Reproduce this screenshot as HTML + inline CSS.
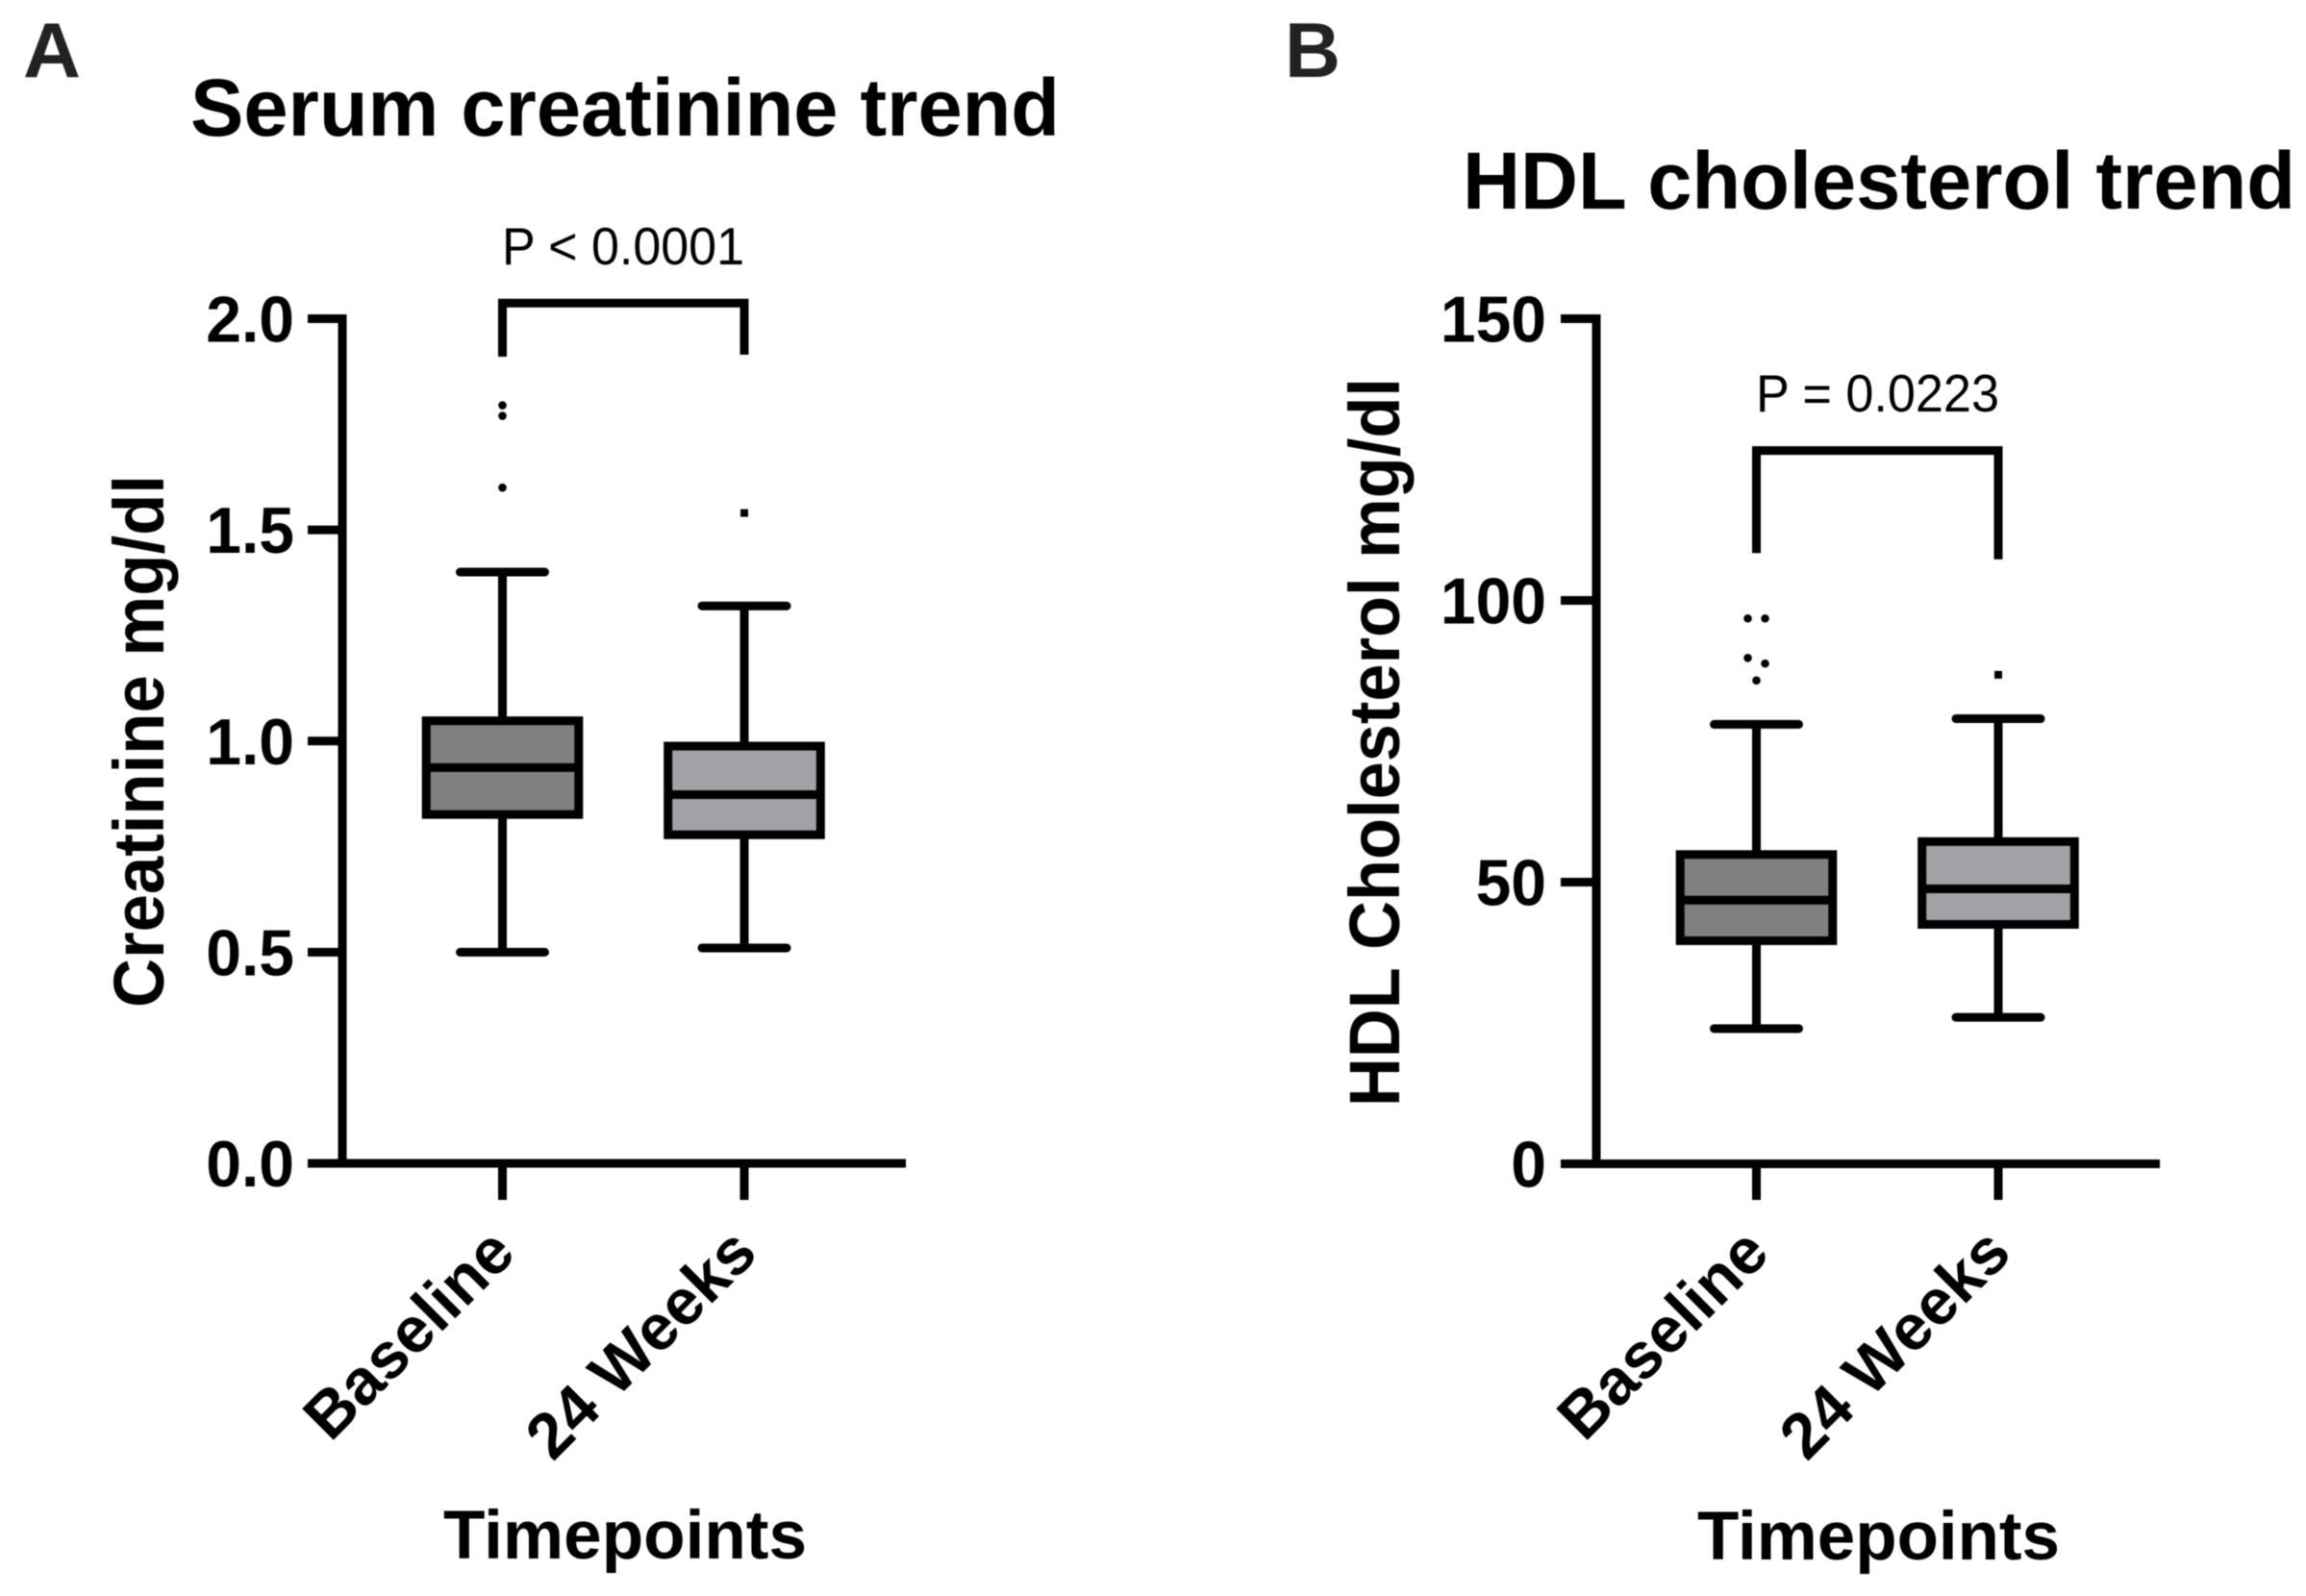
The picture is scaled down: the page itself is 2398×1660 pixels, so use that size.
<!DOCTYPE html>
<html lang="en">
<head>
<meta charset="utf-8">
<title>Serum creatinine and HDL cholesterol trends</title>
<style>
html,body{margin:0;padding:0;background:#fff;width:2398px;height:1660px;overflow:hidden}
svg{display:block;filter:blur(0.6px)}
text{font-family:"Liberation Sans",Arial,sans-serif;fill:#000}
</style>
</head>
<body>
<svg id="figure" xmlns="http://www.w3.org/2000/svg" width="2398" height="1660" viewBox="0 0 2398 1660">
  <rect x="0" y="0" width="2398" height="1660" fill="#fff"/>
  <text x="24" y="80" font-size="81" font-weight="700" style="fill:#222" textLength="60" lengthAdjust="spacingAndGlyphs">A</text>
  <text x="1336" y="80" font-size="81" font-weight="700" style="fill:#222" textLength="58" lengthAdjust="spacingAndGlyphs">B</text>
  <text x="198" y="141" font-size="84" font-weight="700" textLength="904" lengthAdjust="spacingAndGlyphs">Serum creatinine trend</text>
  <text x="1521" y="217" font-size="84" font-weight="700" textLength="866" lengthAdjust="spacingAndGlyphs">HDL cholesterol trend</text>
  <text transform="translate(170,1048) rotate(-90)" font-size="74" font-weight="700" textLength="554" lengthAdjust="spacingAndGlyphs">Creatinine mg/dl</text>
  <text transform="translate(1455,1151) rotate(-90)" font-size="74" font-weight="700" textLength="758" lengthAdjust="spacingAndGlyphs">HDL Cholesterol mg/dl</text>
  <text x="461" y="1621" font-size="71" font-weight="700" textLength="378" lengthAdjust="spacingAndGlyphs">Timepoints</text>
  <text x="1765" y="1622" font-size="71" font-weight="700" textLength="377" lengthAdjust="spacingAndGlyphs">Timepoints</text>
  <text x="522" y="275" font-size="55" textLength="252" lengthAdjust="spacingAndGlyphs">P &lt; 0.0001</text>
  <text x="1826" y="428" font-size="55" textLength="253" lengthAdjust="spacingAndGlyphs">P = 0.0223</text>
</svg>
<script>
// Shared categories
const categories = ['Baseline', '24 Weeks'];

// Panel A: serum creatinine (mg/dl)
const creatinineTicks = [0, 0.5, 1, 1.5, 2];
const creatinineTickLabels = ['0.0', '0.5', '1.0', '1.5', '2.0'];
const creatinineMin = [0.50, 0.51];
const creatinineQ1 = [0.826, 0.778];
const creatinineMedian = [0.937, 0.873];
const creatinineQ3 = [1.048, 0.988];
const creatinineMax = [1.40, 1.32];
const creatinineOutliers = [[1.795, 1.77, 1.60], [1.54]];
const creatinineOutlierSlots = [[0, 0, 0], [0]];
const creatinineBracketTop = 2.037;
const creatinineBracketEnds = [1.91, 1.915];

// Panel B: HDL cholesterol (mg/dl)
const hdlTicks = [0, 50, 100, 150];
const hdlTickLabels = ['0', '50', '100', '150'];
const hdlMin = [24, 26];
const hdlQ1 = [39.6, 42.5];
const hdlMedian = [46.8, 48.8];
const hdlQ3 = [54.9, 57.2];
const hdlMax = [78, 79];
const hdlOutliers = [[96.8, 96.8, 89.8, 88.8, 85.8], [86.8]];
const hdlOutlierSlots = [[-1, 1, -1, 1, 0], [0]];
const hdlBracketTop = 126.6;
const hdlBracketEnds = [108.4, 107.3];

const SVG_NS = 'http://www.w3.org/2000/svg';
const root = document.getElementById('figure');
const STROKE = 9;
const boxFills = ['#808080', '#a2a2a6'];

function add(tag, attrs, name, text) {
  const el = document.createElementNS(SVG_NS, tag);
  for (const k in attrs) el.setAttribute(k, attrs[k]);
  
  
  if (text !== undefined) el.textContent = text;
  root.appendChild(el);
  return el;
}

function line(x1, y1, x2, y2, name, cap) {
  return add('line', {x1, y1, x2, y2, stroke: '#000', 'stroke-width': STROKE, 'stroke-linecap': cap || 'butt'}, name);
}

function drawPanel(p) {
  const yScale = v => p.y0 - (v / p.yMax) * (p.y0 - p.yTop);
  const xScale = i => p.x0 + i * p.xStep;
  const pre = p.prefix;

  // Axes
  line(p.axisX, yScale(p.yMax) - STROKE / 2, p.axisX, yScale(0), pre + '-y-axis-line');
  line(p.tickLeft, yScale(0), p.axisRight, yScale(0), pre + '-x-axis-line');

  // Y ticks and labels
  p.ticks.forEach((t, i) => {
    if (t !== 0) line(p.tickLeft, yScale(t), p.axisX, yScale(t), pre + '-y-tick-' + p.tickLabels[i]);
    add('text', {
      transform: 'translate(' + p.labelRight + ',' + (yScale(t) + 24) + ') scale(1,1.03)',
      'text-anchor': 'end', 'font-size': 66, 'font-weight': 700
    }, pre + '-y-tick-label-' + p.tickLabels[i], p.tickLabels[i]);
  });

  // Categories
  categories.forEach((c, i) => {
    const x = xScale(i);
    const slug = c.toLowerCase().replace(/\s+/g, '-');
    line(x, yScale(0), x, 1248, pre + '-x-tick-' + slug);
    add('text', {
      transform: 'translate(' + (x + 16) + ',1306) rotate(-45)',
      'text-anchor': 'end', 'font-size': 67, 'font-weight': 700
    }, pre + '-x-tick-label-' + slug, c);

    // Whiskers
    line(x, yScale(p.max[i]), x, yScale(p.q3[i]), pre + '-whisker-high-' + slug);
    line(x, yScale(p.q1[i]), x, yScale(p.min[i]), pre + '-whisker-low-' + slug);
    line(x - p.capHalf, yScale(p.max[i]), x + p.capHalf, yScale(p.max[i]), pre + '-cap-high-' + slug, 'round');
    line(x - p.capHalf, yScale(p.min[i]), x + p.capHalf, yScale(p.min[i]), pre + '-cap-low-' + slug, 'round');

    // Box
    add('rect', {
      x: x - p.boxHalf, y: yScale(p.q3[i]), width: p.boxHalf * 2,
      height: yScale(p.q1[i]) - yScale(p.q3[i]),
      fill: boxFills[i], stroke: '#000', 'stroke-width': STROKE
    }, pre + '-box-' + slug);
    line(x - p.boxHalf, yScale(p.median[i]), x + p.boxHalf, yScale(p.median[i]), pre + '-median-' + slug);

    // Outliers
    p.outliers[i].forEach((v, j) => {
      const ox = x + p.outlierSlots[i][j] * 9;
      if (i === 0) {
        add('circle', {cx: ox, cy: yScale(v), r: 4.3, fill: '#000'}, pre + '-outlier-' + slug);
      } else {
        add('rect', {x: ox - 4, y: yScale(v) - 4, width: 8, height: 8, fill: '#000'}, pre + '-outlier-' + slug);
      }
    });
  });

  // Significance bracket
  const xa = xScale(0), xb = xScale(1), top = yScale(p.bracketTop);
  add('path', {
    d: 'M' + xa + ' ' + yScale(p.bracketEnds[0]) + ' L' + xa + ' ' + top + ' L' + xb + ' ' + top + ' L' + xb + ' ' + yScale(p.bracketEnds[1]),
    fill: 'none', stroke: '#000', 'stroke-width': STROKE, 'stroke-linejoin': 'miter'
  }, pre + '-significance-bracket');
}

drawPanel({
  prefix: 'panel-a', y0: 1210, yTop: 331.5, yMax: 2, axisX: 356, tickLeft: 320, axisRight: 942,
  labelRight: 306, x0: 522.5, xStep: 251.5, boxHalf: 79.3, capHalf: 44,
  ticks: creatinineTicks, tickLabels: creatinineTickLabels,
  min: creatinineMin, q1: creatinineQ1, median: creatinineMedian, q3: creatinineQ3, max: creatinineMax,
  outliers: creatinineOutliers, outlierSlots: creatinineOutlierSlots,
  bracketTop: creatinineBracketTop, bracketEnds: creatinineBracketEnds
});

drawPanel({
  prefix: 'panel-b', y0: 1210.5, yTop: 331.5, yMax: 150, axisX: 1660, tickLeft: 1623, axisRight: 2246,
  labelRight: 1608, x0: 1826.5, xStep: 251.5, boxHalf: 79.3, capHalf: 44,
  ticks: hdlTicks, tickLabels: hdlTickLabels,
  min: hdlMin, q1: hdlQ1, median: hdlMedian, q3: hdlQ3, max: hdlMax,
  outliers: hdlOutliers, outlierSlots: hdlOutlierSlots,
  bracketTop: hdlBracketTop, bracketEnds: hdlBracketEnds
});
</script>
</body>
</html>
